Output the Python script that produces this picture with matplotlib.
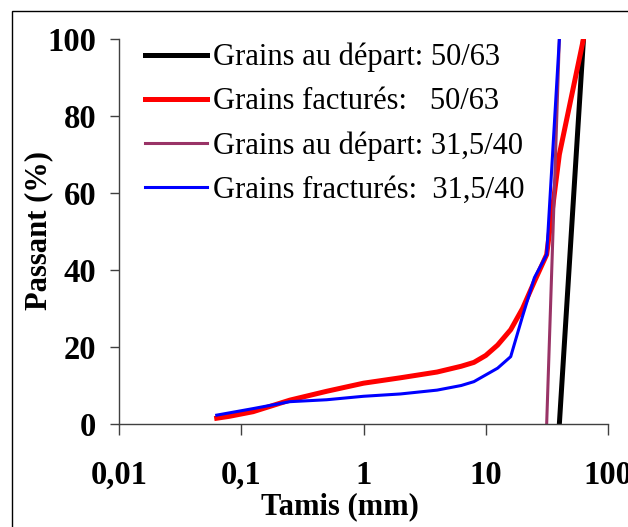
import matplotlib
matplotlib.use("Agg")
import matplotlib.pyplot as plt
from matplotlib.patches import Rectangle

# Data
x_dep_50 = [40, 63]
y_dep_50 = [0, 100]

x_frac_50 = [0.063, 0.08, 0.125, 0.25, 0.5, 1, 2, 4, 6.3, 8, 10, 12.5, 16, 20, 25, 31.5, 40, 63]
y_frac_50 = [1.5, 2.0, 3.2, 6.2, 8.5, 10.6, 12.0, 13.5, 15.0, 16.0, 17.8, 20.5, 24.5, 30.0, 37.0, 44.0, 70.0, 100.0]

x_dep_31 = [31.5, 40]
y_dep_31 = [0, 100]

x_frac_31 = [0.063, 0.125, 0.25, 0.5, 1, 2, 4, 6.3, 8, 12.5, 16, 20, 25, 31.5, 40]
y_frac_31 = [2.3, 4.0, 5.8, 6.3, 7.2, 7.8, 8.8, 10.0, 11.0, 14.5, 17.5, 28.0, 38.0, 44.0, 100.0]

labels = ["Grains au départ: 50/63",
          "Grains facturés:   50/63",
          "Grains au départ: 31,5/40",
          "Grains fracturés:  31,5/40"]

x_ticks = [0.01, 0.1, 1, 10, 100]
x_ticklabels = ["0,01", "0,1", "1", "10", "100"]
y_ticks = [0, 20, 40, 60, 80, 100]

plt.rcParams['font.family'] = ['Liberation Serif', 'DejaVu Serif']

fig = plt.figure(figsize=(6.28, 5.27), dpi=100)
ax = fig.add_axes([119/628, 1-424/527, (608-119)/628, (424-39)/527])

ax.plot(x_dep_50, y_dep_50, color='black', lw=3.6, label=labels[0])
ax.plot(x_frac_50, y_frac_50, color='#FF0000', lw=3.6, label=labels[1])
ax.plot(x_dep_31, y_dep_31, color='#993366', lw=2.2, label=labels[2])
ax.plot(x_frac_31, y_frac_31, color='#0000FF', lw=2.2, label=labels[3])

ax.set_xscale('log')
ax.set_xlim(0.01, 100)
ax.set_ylim(0, 100)
ax.set_xticks(x_ticks)
ax.set_xticklabels(x_ticklabels)
ax.minorticks_off()
ax.set_yticks(y_ticks)

for s in ['top', 'right']:
    ax.spines[s].set_visible(False)
for s in ['left', 'bottom']:
    ax.spines[s].set_color('#404040')
    ax.spines[s].set_linewidth(1.0)

ax.tick_params(axis='y', direction='out', length=6.5, width=1, color='#404040', pad=10, labelsize=23.5)
ax.tick_params(axis='x', direction='out', length=8, width=1, color='#404040', pad=18, labelsize=23.5)
for lab in ax.get_xticklabels() + ax.get_yticklabels():
    lab.set_fontweight('bold')

ax.set_xlabel("Tamis (mm)", fontsize=22, fontweight='bold')
ax.xaxis.set_label_coords((340-119)/489, -(521-424)/385)
ax.xaxis.label.set_va('bottom')
ax.set_ylabel("Passant (%)", fontsize=22, fontweight='bold')
ax.yaxis.set_label_coords((53-119)/489, (424-231)/385)

leg = ax.legend(loc='upper left', bbox_to_anchor=(0.053, 0.99), frameon=False,
                fontsize=22, handlelength=2.03, handletextpad=0.2, labelspacing=0.49,
                borderaxespad=0, borderpad=0)

fig.patches.append(Rectangle((11.5/628, -0.1), 1.2, (527-10.5)/527 + 0.1,
                             transform=fig.transFigure, fill=False,
                             edgecolor='black', lw=1.0, clip_on=False))

fig.savefig("out.png", dpi=100)
